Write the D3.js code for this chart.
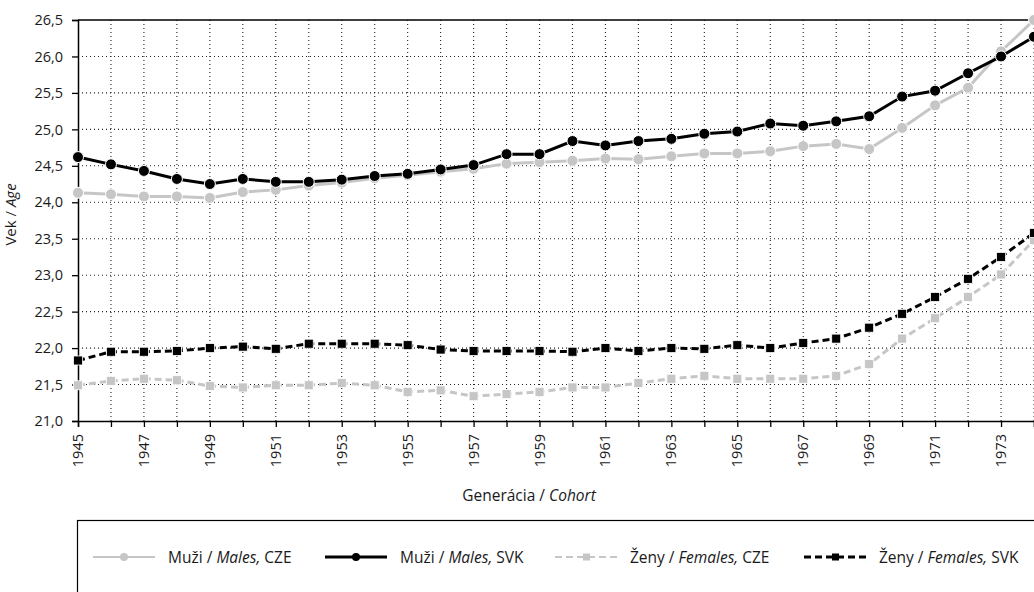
<!DOCTYPE html>
<html>
<head>
<meta charset="utf-8">
<script src="https://cdn.jsdelivr.net/npm/d3@7/dist/d3.min.js"></script>
<style>
  body { margin: 0; background: #fff; }
  text { font-family: "Open Sans", sans-serif; fill: #1a1a1a; }
</style>
</head>
<body>
<div id="chart"></div>
<script>
const years = d3.range(1945, 1975);
const malesCZE = [24.13, 24.11, 24.08, 24.08, 24.06, 24.14, 24.17, 24.23, 24.27, 24.33,
  24.37, 24.42, 24.46, 24.53, 24.55, 24.57, 24.60, 24.59, 24.63, 24.67,
  24.67, 24.70, 24.77, 24.80, 24.73, 25.02, 25.33, 25.57, 26.07, 26.50];
const malesSVK = [24.62, 24.52, 24.43, 24.32, 24.25, 24.32, 24.28, 24.28, 24.31, 24.36,
  24.39, 24.45, 24.51, 24.66, 24.66, 24.84, 24.78, 24.84, 24.87, 24.94,
  24.97, 25.08, 25.05, 25.11, 25.18, 25.45, 25.53, 25.77, 26.00, 26.27];
const femalesCZE = [21.49, 21.55, 21.58, 21.56, 21.48, 21.46, 21.49, 21.49, 21.52, 21.49,
  21.40, 21.42, 21.34, 21.37, 21.40, 21.46, 21.46, 21.52, 21.58, 21.62,
  21.58, 21.58, 21.58, 21.62, 21.78, 22.13, 22.41, 22.70, 23.01, 23.48];
const femalesSVK = [21.83, 21.95, 21.95, 21.96, 22.00, 22.02, 21.99, 22.06, 22.06, 22.06,
  22.04, 21.98, 21.96, 21.96, 21.96, 21.95, 22.00, 21.96, 22.00, 21.99,
  22.04, 22.00, 22.07, 22.13, 22.28, 22.47, 22.70, 22.95, 23.25, 23.58];
const yTicks = d3.range(21, 26.51, 0.5);
const xLabelYears = d3.range(1945, 1975, 2);

const seriesList = [
  { name: 'CZE', gender: 'Muži / ', genderEn: 'Males', values: malesCZE, color: '#c6c6c6', dash: null, marker: 'circle' },
  { name: 'SVK', gender: 'Muži / ', genderEn: 'Males', values: malesSVK, color: '#000', dash: null, marker: 'circle' },
  { name: 'CZE', gender: 'Ženy / ', genderEn: 'Females', values: femalesCZE, color: '#c6c6c6', dash: '7,4', marker: 'square' },
  { name: 'SVK', gender: 'Ženy / ', genderEn: 'Females', values: femalesSVK, color: '#000', dash: '7,4', marker: 'square' }
];

const W = 1034, H = 592;
const plot = { left: 78, top: 20, right: 1034, bottom: 421 };

const svg = d3.select('#chart').append('svg').attr('width', W).attr('height', H);

const x = d3.scaleLinear().domain([1945, 1974]).range([plot.left, plot.right]);
const y = d3.scaleLinear().domain([21, 26.5]).range([plot.bottom, plot.top]);

// grid
const grid = svg.append('g').attr('class', 'grid');
grid.selectAll('.vline').data(years.slice(1)).enter().append('line')
  .attr('x1', d => x(d)).attr('x2', d => x(d))
  .attr('y1', plot.top).attr('y2', plot.bottom)
  .attr('stroke', '#222').attr('stroke-width', 1.1).attr('stroke-dasharray', '1,3');
grid.selectAll('.hline').data(yTicks.slice(1, -1)).enter().append('line')
  .attr('x1', plot.left).attr('x2', plot.right)
  .attr('y1', d => y(d)).attr('y2', d => y(d))
  .attr('stroke', '#222').attr('stroke-width', 1.1).attr('stroke-dasharray', '1,3');

// top border
svg.append('line').attr('x1', plot.left).attr('x2', plot.right)
  .attr('y1', plot.top).attr('y2', plot.top).attr('stroke', '#000').attr('stroke-width', 1.5);

// axes
const yAxis = svg.append('g').attr('transform', `translate(${plot.left},0)`)
  .call(d3.axisLeft(y).tickValues(yTicks).tickSize(6).tickPadding(9)
    .tickFormat(d => d3.format('.1f')(d).replace('.', ',')));
yAxis.select('.domain').attr('stroke-width', 1.5);
yAxis.selectAll('.tick line').attr('stroke-width', 1.3);
yAxis.selectAll('text').style('font-size', '14.5px');

const xAxis = svg.append('g').attr('transform', `translate(0,${plot.bottom})`)
  .call(d3.axisBottom(x).tickValues(years).tickSize(6).tickFormat(''));
xAxis.select('.domain').attr('stroke-width', 1.5);
xAxis.selectAll('.tick line').attr('stroke-width', 1.3);

svg.append('g').selectAll('text').data(xLabelYears).enter().append('text')
  .attr('transform', d => `translate(${x(d) + 5},${plot.bottom + 13}) rotate(-90)`)
  .attr('text-anchor', 'end')
  .style('font-size', '14.5px')
  .text(d => d);

// axis titles
const yTitle = svg.append('text')
  .attr('transform', `translate(16,${(plot.top + plot.bottom) / 2 - 6}) rotate(-90)`)
  .attr('text-anchor', 'middle').style('font-size', '15px');
yTitle.append('tspan').text('Vek / ');
yTitle.append('tspan').style('font-style', 'italic').text('Age');

const xTitle = svg.append('text')
  .attr('x', 529).attr('y', 501)
  .attr('text-anchor', 'middle').style('font-size', '15.5px');
xTitle.append('tspan').text('Generácia / ');
xTitle.append('tspan').style('font-style', 'italic').text('Cohort');

// series
svg.append('clipPath').attr('id', 'plotClip').append('rect')
  .attr('x', plot.left - 10).attr('y', 0).attr('width', plot.right - plot.left + 10).attr('height', plot.bottom + 10);

const lineGen = d3.line().x((d, i) => x(years[i])).y(d => y(d));
const seriesG = svg.append('g').attr('clip-path', 'url(#plotClip)');

const drawMarker = (g, type, color, cx, cy) => {
  if (type === 'circle') {
    g.append('circle').attr('cx', cx).attr('cy', cy).attr('r', 5.5)
      .attr('fill', color).attr('stroke', '#fff').attr('stroke-width', 1);
  } else {
    g.append('rect').attr('x', cx - 4.5).attr('y', cy - 4.5).attr('width', 9).attr('height', 9)
      .attr('fill', color).attr('stroke', '#fff').attr('stroke-width', 0.8);
  }
};

seriesList.forEach(s => {
  const g = seriesG.append('g');
  g.append('path').datum(s.values).attr('d', lineGen)
    .attr('fill', 'none').attr('stroke', s.color).attr('stroke-width', 3)
    .attr('stroke-dasharray', s.dash);
  s.values.forEach((v, i) => drawMarker(g, s.marker, s.color, x(years[i]), y(v)));
});

// legend
const legend = svg.append('g');
legend.append('rect').attr('x', 77.5).attr('y', 520.5).attr('width', 1000).attr('height', 100)
  .attr('fill', 'none').attr('stroke', '#000').attr('stroke-width', 1.2);

const legendX = [93, 325, 555, 804];
const legendY = 557;
seriesList.forEach((s, i) => {
  const g = legend.append('g').attr('transform', `translate(${legendX[i]},${legendY})`);
  g.append('line').attr('x1', 0).attr('x2', 62).attr('y1', 0).attr('y2', 0)
    .attr('stroke', s.color).attr('stroke-width', s.color === '#000' ? 3 : 2.2)
    .attr('stroke-dasharray', s.dash);
  if (s.marker === 'circle') {
    g.append('circle').attr('cx', 31).attr('cy', 0).attr('r', 4).attr('fill', s.color);
  } else {
    g.append('rect').attr('x', 28).attr('y', -3.5).attr('width', 7).attr('height', 7).attr('fill', s.color);
  }
  const t = g.append('text').attr('x', 75).attr('y', 5.5).style('font-size', '15.5px');
  t.append('tspan').text(s.gender);
  t.append('tspan').style('font-style', 'italic').text(s.genderEn + ',');
  t.append('tspan').text(' ' + s.name);
});
</script>
</body>
</html>
